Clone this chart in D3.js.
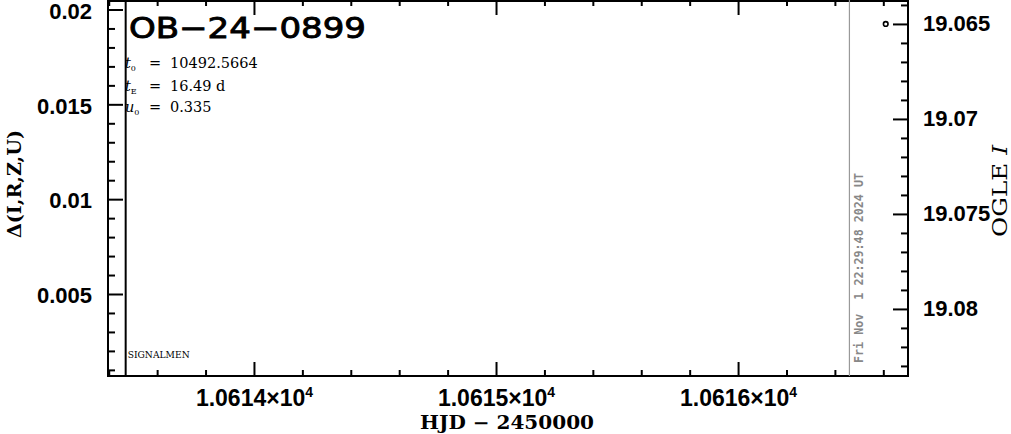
<!DOCTYPE html>
<html>
<head>
<meta charset="utf-8">
<script src="https://cdn.jsdelivr.net/npm/d3@7"></script>
<style>
  html, body { margin: 0; padding: 0; background: #fff; }
  svg { display: block; }
</style>
</head>
<body>
<svg id="chart" width="1011" height="434"></svg>
<script>
// ---- data ----
const eventName = "OB\u221224\u22120899";
const xMajorTicks = [10614, 10615, 10616];
const xMajorMantissa = ["1.0614", "1.0615", "1.0616"];
const xExponent = "4";
const leftTicks = [0.005, 0.01, 0.015, 0.02];
const leftTickLabels = ["0.005", "0.01", "0.015", "0.02"];
const rightTicks = [19.065, 19.07, 19.075, 19.08];
const rightTickLabels = ["19.065", "19.07", "19.075", "19.08"];
const obsHJD = [10616.61];
const obsMag = [19.065];
const markerHJD = [10613.47];
const nowHJD = [10616.46];
const paramSymbols = ["t", "t", "u"];
const paramSubs = ["0", "E", "0"];
const paramValues = ["10492.5664", "16.49 d", "0.335"];
const timestamp = "Fri Nov  1 22:29:48 2024 UT";
const xDomain = [10613.397, 10616.702];
const yLeftDomain = [0.000677, 0.0205];
const yRightDomain = [19.06374, 19.08353];

// ---- layout ----
const L = 108, R = 908, T = 0, B = 376;
const svg = d3.select("#chart");
svg.append("rect").attr("width", 1011).attr("height", 434).attr("fill", "#fff");

const x = d3.scaleLinear().domain(xDomain).range([L, R]);
const yL = d3.scaleLinear().domain(yLeftDomain).range([B, T]);
const yR = d3.scaleLinear().domain(yRightDomain).range([T, B]);

const tickFont = "'Liberation Sans', Arial, sans-serif";
const serif = "'DejaVu Serif', serif";

function styleAxis(g) {
  g.select(".domain").remove();
  g.selectAll(".tick line").attr("stroke", "#000").attr("stroke-width", 2);
  g.selectAll("text").attr("fill", "#000").attr("font-family", tickFont)
    .attr("font-weight", "bold").attr("font-size", 22);
}

// minor ticks
const xMinor = d3.range(10613.4, 10616.71, 0.2).filter(v => Math.abs(v - Math.round(v)) > 1e-6);
const yLMinor = d3.range(0.001, 0.0205, 0.001).filter(v => Math.abs(v / 0.005 - Math.round(v / 0.005)) > 1e-6);
const yRMinor = d3.range(19.064, 19.0836, 0.001).filter(v => Math.abs(v / 0.005 - Math.round(v / 0.005)) > 1e-4);

// bottom
svg.append("g").attr("transform", `translate(0,${B})`)
  .call(d3.axisBottom(x).tickValues(xMinor).tickSize(-6).tickFormat(""))
  .call(styleAxis);
const bottom = svg.append("g").attr("transform", `translate(0,${B})`)
  .call(d3.axisBottom(x).tickValues(xMajorTicks).tickSize(-14).tickPadding(14)
    .tickFormat((d, i) => xMajorMantissa[i]))
  .call(styleAxis);
bottom.selectAll(".tick text").each(function(d, i) {
  const t = d3.select(this);
  t.text(null);
  t.attr("font-size", 23);
  t.append("tspan").text(xMajorMantissa[i] + "\u00d710");
  t.append("tspan").text(xExponent).attr("font-size", 14).attr("dy", "-0.7em");
});

// top
svg.append("g").attr("transform", `translate(0,${T})`)
  .call(d3.axisTop(x).tickValues(xMinor).tickSize(-6).tickFormat(""))
  .call(styleAxis);
svg.append("g").attr("transform", `translate(0,${T})`)
  .call(d3.axisTop(x).tickValues(xMajorTicks).tickSize(-15).tickFormat(""))
  .call(styleAxis);

// left
svg.append("g").attr("transform", `translate(${L},0)`)
  .call(d3.axisLeft(yL).tickValues(yLMinor).tickSize(-7).tickFormat(""))
  .call(styleAxis);
svg.append("g").attr("transform", `translate(${L},0)`)
  .call(d3.axisLeft(yL).tickValues(leftTicks).tickSize(-15).tickPadding(16)
    .tickFormat((d, i) => leftTickLabels[i]))
  .call(styleAxis)
  .call(g => g.selectAll(".tick text").attr("dy", "0.4em"));

// right
svg.append("g").attr("transform", `translate(${R},0)`)
  .call(d3.axisRight(yR).tickValues(yRMinor).tickSize(-7).tickFormat(""))
  .call(styleAxis);
svg.append("g").attr("transform", `translate(${R},0)`)
  .call(d3.axisRight(yR).tickValues(rightTicks).tickSize(-15).tickPadding(15)
    .tickFormat((d, i) => rightTickLabels[i]))
  .call(styleAxis);

// frame
svg.append("rect").attr("x", L).attr("y", T + 1).attr("width", R - L).attr("height", B - T - 1)
  .attr("fill", "none").attr("stroke", "#000").attr("stroke-width", 2);

// marker lines
svg.selectAll(".mk").data(markerHJD).enter().append("line")
  .attr("x1", d => x(d)).attr("x2", d => x(d)).attr("y1", T).attr("y2", B)
  .attr("stroke", "#000").attr("stroke-width", 2);
svg.selectAll(".now").data(nowHJD).enter().append("line")
  .attr("x1", d => x(d)).attr("x2", d => x(d)).attr("y1", T).attr("y2", B)
  .attr("stroke", "#999").attr("stroke-width", 1.2);

// timestamp
svg.append("text")
  .attr("transform", `translate(${x(nowHJD[0]) + 14},268) rotate(-90)`)
  .attr("text-anchor", "middle").attr("font-family", "'DejaVu Sans Mono', monospace")
  .attr("font-weight", "bold").attr("font-size", 12).attr("fill", "#888")
  .attr("textLength", 190).attr("lengthAdjust", "spacingAndGlyphs")
  .attr("xml:space", "preserve").style("white-space", "pre")
  .text(timestamp);

// data point
svg.selectAll(".pt").data(obsHJD).enter().append("circle")
  .attr("cx", d => x(d)).attr("cy", (d, i) => yR(obsMag[i])).attr("r", 2.3)
  .attr("fill", "none").attr("stroke", "#000").attr("stroke-width", 1.6);

// title
svg.append("text").attr("x", 129).attr("y", 38)
  .attr("font-family", "'DejaVu Sans', sans-serif").attr("font-size", 29)
  .attr("fill", "#000").attr("stroke", "#000").attr("stroke-width", 0.9)
  .attr("textLength", 237).attr("lengthAdjust", "spacingAndGlyphs")
  .text(eventName);

// parameters
const pY = [68, 91, 112];
paramValues.forEach((v, i) => {
  const t = svg.append("text").attr("y", pY[i]).attr("font-family", serif)
    .attr("font-size", 14.5).attr("fill", "#000");
  t.append("tspan").attr("x", 125).attr("font-style", "italic").text(paramSymbols[i]);
  t.append("tspan").attr("font-size", 8).attr("dy", 3).text(paramSubs[i]);
  t.append("tspan").attr("x", 149).attr("dy", -3).text("=");
  t.append("tspan").attr("x", 170).text(v);
});

// SIGNALMEN
svg.append("text").attr("x", x(markerHJD[0]) + 2).attr("y", 358)
  .attr("font-family", serif).attr("font-size", 9).attr("fill", "#000")
  .attr("textLength", 62).attr("lengthAdjust", "spacingAndGlyphs")
  .text("SIGNALMEN");

// axis titles
svg.append("text").attr("x", 507).attr("y", 429).attr("text-anchor", "middle")
  .attr("font-family", serif).attr("font-weight", "bold").attr("font-size", 18)
  .attr("fill", "#000").attr("textLength", 174).attr("lengthAdjust", "spacingAndGlyphs")
  .text("HJD \u2212 2450000");

svg.append("text").attr("transform", "translate(21,184) rotate(-90)")
  .attr("text-anchor", "middle").attr("font-family", serif).attr("font-weight", "bold")
  .attr("font-size", 19).attr("fill", "#000")
  .attr("textLength", 108).attr("lengthAdjust", "spacingAndGlyphs")
  .text("\u0394(I,R,Z,U)");

const rl = svg.append("text").attr("transform", "translate(1007,191) rotate(-90)")
  .attr("text-anchor", "middle").attr("font-family", serif)
  .attr("font-size", 21).attr("fill", "#000")
  .attr("textLength", 92).attr("lengthAdjust", "spacingAndGlyphs");
rl.append("tspan").text("OGLE ");
rl.append("tspan").attr("font-style", "italic").text("I");
</script>
</body>
</html>
